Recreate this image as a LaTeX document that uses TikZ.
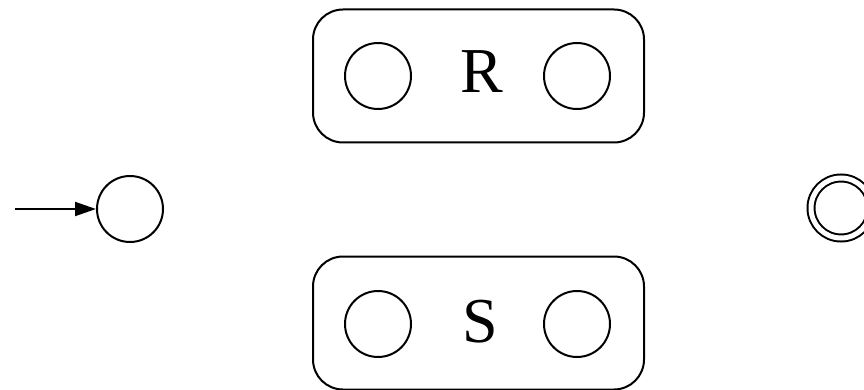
\documentclass[tikz,border=0pt]{standalone}
\usepackage{fontspec}
\setmainfont{Liberation Serif}
\usetikzlibrary{arrows.meta}
\begin{document}
\begin{tikzpicture}[x=1pt,y=-1pt,
  state/.style={draw,circle,line width=2pt,minimum size=66pt,inner sep=0pt},
  accept/.style={state,double,double distance=5pt,minimum size=60pt},
  group/.style={draw,rounded corners=30pt,line width=2pt,minimum width=331pt,minimum height=133pt,inner sep=0pt},
  lbl/.style={font=\fontsize{64}{64}\selectfont,inner sep=0pt,anchor=base}
]
\useasboundingbox (0,0) rectangle (864,390);
\node[group] (R) at (478.5,76) {};
\node[group] (S) at (478.5,323) {};
\node[state] (r1) at (378,76) {};
\node[state] (r2) at (577,76) {};
\node[state] (s1) at (378,324) {};
\node[state] (s2) at (577,324) {};
\node[lbl] (rl) at (482,93) {R};
\node[lbl] (sl) at (480,342) {S};
\node[state] (q0) at (130,209) {};
\node[accept] (qf) at (841,208) {};
\coordinate (in) at (15,209);
\draw[line width=2pt,-{Triangle[length=21pt,width=14pt]}] (in) -- (q0);
\end{tikzpicture}
\end{document}
